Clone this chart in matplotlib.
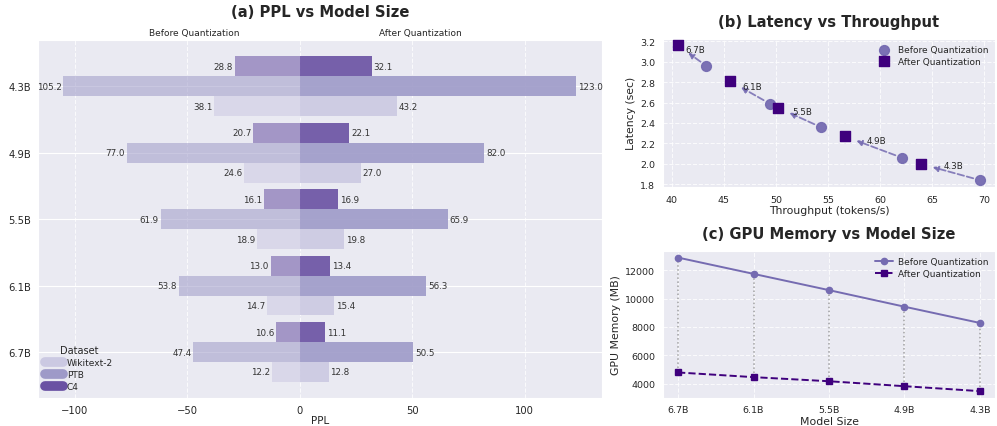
import numpy as np
import matplotlib
matplotlib.use("Agg")
import matplotlib.pyplot as plt
import seaborn as sns
from matplotlib.lines import Line2D

sns.set_style("darkgrid")
plt.rcParams["font.family"] = ["DejaVu Sans"]

# ---- data ----
model_sizes = ["4.3B", "4.9B", "5.5B", "6.1B", "6.7B"]
datasets = ["Wikitext-2", "PTB", "C4"]

ppl_before = {
    "Wikitext-2": [38.1, 24.6, 18.9, 14.7, 12.2],
    "PTB":        [105.2, 77.0, 61.9, 53.8, 47.4],
    "C4":         [28.8, 20.7, 16.1, 13.0, 10.6],
}
ppl_after = {
    "Wikitext-2": [43.2, 27.0, 19.8, 15.4, 12.8],
    "PTB":        [123.0, 82.0, 65.9, 56.3, 50.5],
    "C4":         [32.1, 22.1, 16.9, 13.4, 11.1],
}

# latency / throughput, ordered 6.7B -> 4.3B
lat_sizes = ["6.7B", "6.1B", "5.5B", "4.9B", "4.3B"]
thr_before = [43.3, 49.4, 54.3, 62.1, 69.6]
lat_before = [2.96, 2.59, 2.36, 2.06, 1.84]
thr_after = [40.6, 45.6, 50.2, 56.6, 63.9]
lat_after = [3.16, 2.81, 2.55, 2.27, 2.00]

# GPU memory, ordered 6.7B -> 4.3B
mem_sizes = ["6.7B", "6.1B", "5.5B", "4.9B", "4.3B"]
mem_before = [12900, 11750, 10600, 9430, 8280]
mem_after = [4780, 4450, 4160, 3810, 3460]

# ---- style ----
ds_colors = {"Wikitext-2": "#cbc9e2", "PTB": "#9e9ac8", "C4": "#6a51a3"}
ds_offset = {"C4": -0.3, "PTB": 0.0, "Wikitext-2": 0.3}
c_before = "#756bb1"
c_after = "#3f007d"

fig = plt.figure(figsize=(9.97, 4.27), dpi=100)
ax_a = fig.add_axes([0.038, 0.065, 0.566, 0.839])
ax_b = fig.add_axes([0.665, 0.560, 0.333, 0.347])
ax_c = fig.add_axes([0.665, 0.066, 0.333, 0.344])

# ---- (a) PPL butterfly bars ----
y = np.arange(len(model_sizes))
for ds in datasets:
    pos = y + ds_offset[ds]
    before = np.array(ppl_before[ds])
    after = np.array(ppl_after[ds])
    ax_a.barh(pos, -before, height=0.3, color=ds_colors[ds], alpha=0.55,
              linewidth=0)
    ax_a.barh(pos, after, height=0.3, color=ds_colors[ds], alpha=0.9,
              linewidth=0)
    for p, b, a in zip(pos, before, after):
        ax_a.text(-b - 0.8, p, f"{b:.1f}", ha="right", va="center",
                  fontsize=6.3, color="#333333")
        ax_a.text(a + 0.8, p, f"{a:.1f}", ha="left", va="center",
                  fontsize=6.3, color="#333333")

ax_a.set_yticks(y)
ax_a.set_yticklabels(model_sizes)
ax_a.invert_yaxis()
ax_a.set_xlim(-116.5, 134.5)
ax_a.set_xticks([-100, -50, 0, 50, 100])
ax_a.grid(axis="x", linestyle="--", alpha=0.8)
ax_a.tick_params(axis="both", labelsize=7.2, pad=1.5)
ax_a.set_xlabel("PPL", fontsize=7.5, labelpad=0)
ax_a.set_title("(a) PPL vs Model Size", fontsize=10.6, fontweight="bold",
               pad=17)
ax_a.text(-47, -0.74, "Before Quantization", ha="center", va="bottom",
          fontsize=6.5)
ax_a.text(53.5, -0.74, "After Quantization", ha="center", va="bottom",
          fontsize=6.5)

handles = [Line2D([0], [0], color=ds_colors[ds], lw=7, solid_capstyle="round")
           for ds in datasets]
ax_a.legend(handles, datasets, title="Dataset", loc="lower left",
            fontsize=6.5, title_fontsize=7, frameon=False,
            handlelength=2.0, borderaxespad=0.4, labelspacing=0.35,
            handletextpad=0.4)

# ---- (b) latency vs throughput ----
ax_b.scatter(thr_before, lat_before, s=50, marker="o", color=c_before,
             alpha=0.95, label="Before Quantization", zorder=3)
ax_b.scatter(thr_after, lat_after, s=45, marker="s", color=c_after,
             label="After Quantization", zorder=3)
for name, xb, yb, xa, ya in zip(lat_sizes, thr_before, lat_before,
                                thr_after, lat_after):
    ax_b.annotate("", xy=(xa, ya), xytext=(xb, yb),
                  arrowprops=dict(arrowstyle="-|>", color=c_before,
                                  linestyle="--", lw=1.3, alpha=0.85,
                                  shrinkA=5, shrinkB=9, mutation_scale=8))
    ax_b.annotate(name, xy=((xa + xb) / 2, (ya + yb) / 2),
                  xytext=(2, 4.5), textcoords="offset points",
                  ha="center", va="center", fontsize=6.3)
ax_b.set_yticks([1.8, 2.0, 2.2, 2.4, 2.6, 2.8, 3.0, 3.2])
ax_b.grid(linestyle="--", alpha=0.8)
ax_b.tick_params(axis="both", labelsize=6.8, pad=2)
ax_b.set_xlabel("Throughput (tokens/s)", fontsize=7.8, labelpad=1)
ax_b.set_ylabel("Latency (sec)", fontsize=7.8, labelpad=3)
ax_b.set_title("(b) Latency vs Throughput", fontsize=10.6, fontweight="bold",
               pad=9)
ax_b.legend(loc="upper right", fontsize=6.5, frameon=False,
            handletextpad=0.6, labelspacing=0.3, borderaxespad=0.3)

# ---- (c) GPU memory vs model size ----
xc = np.arange(len(mem_sizes))
for xi, mb, ma in zip(xc, mem_before, mem_after):
    ax_c.plot([xi, xi], [ma, mb], color="gray", linestyle=":", lw=1.1,
              alpha=0.7, zorder=1)
ax_c.plot(xc, mem_before, color=c_before, marker="o", markersize=4.5,
          lw=1.4, label="Before Quantization", zorder=3)
ax_c.plot(xc, mem_after, color=c_after, marker="s", markersize=5,
          lw=1.4, linestyle="--", label="After Quantization", zorder=3)
ax_c.set_xticks(xc)
ax_c.set_xticklabels(mem_sizes)
ax_c.set_yticks([4000, 6000, 8000, 10000, 12000])
ax_c.grid(linestyle="--", alpha=0.8)
ax_c.tick_params(axis="both", labelsize=6.8, pad=2)
ax_c.set_xlabel("Model Size", fontsize=7.8, labelpad=1)
ax_c.set_ylabel("GPU Memory (MB)", fontsize=7.8, labelpad=3)
ax_c.set_title("(c) GPU Memory vs Model Size", fontsize=10.6,
               fontweight="bold", pad=9)
ax_c.legend(loc="upper right", fontsize=6.5, frameon=False,
            handletextpad=0.6, labelspacing=0.3, borderaxespad=0.3)

fig.savefig("out.png", dpi=100)
